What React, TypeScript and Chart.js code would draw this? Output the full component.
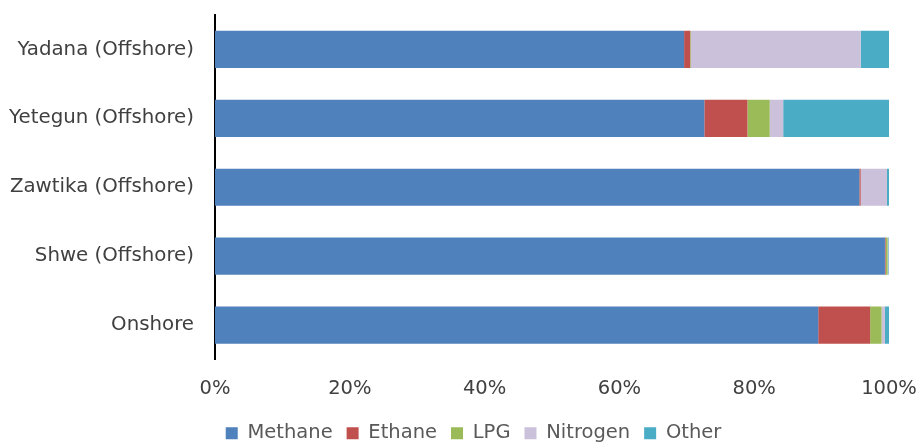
import React, { useEffect, useRef } from "react";
import { Chart, registerables } from "chart.js";

Chart.register(...registerables);

const categories = ["Yadana (Offshore)", "Yetegun (Offshore)", "Zawtika (Offshore)", "Shwe (Offshore)", "Onshore"];
const methane = [69.6, 72.6, 95.6, 99.4, 89.5];
const ethane = [0.9, 6.4, 0.2, 0.1, 7.7];
const lpg = [0.1, 3.3, 0.0, 0.3, 1.7];
const nitrogen = [25.2, 2.0, 3.9, 0.1, 0.5];
const other = [4.2, 15.7, 0.3, 0.1, 0.6];
const xTicks = ["0%", "20%", "40%", "60%", "80%", "100%"];

const FONT = "'DejaVu Sans', Verdana, sans-serif";

const legendShift = {
  id: "legendShift",
  afterLayout(chart: any) {
    const lg = chart.legend;
    if (lg) {
      lg.top += 9;
      lg.bottom += 9;
      lg.left += 26;
      lg.right += 26;
    }
  },
};

export default function App() {
  const ref = useRef<HTMLCanvasElement | null>(null);
  useEffect(() => {
    document.body.style.margin = "0";
    const ctx = ref.current!;
    const mk = (label: string, data: number[], color: string) => ({
      label,
      data,
      backgroundColor: color,
      borderWidth: 0,
      barPercentage: 0.54,
      categoryPercentage: 1,
    });
    const chart = new Chart(ctx, {
      type: "bar",
      data: {
        labels: categories,
        datasets: [
          mk("Methane", methane, "#4F81BD"),
          mk("Ethane", ethane, "#C0504D"),
          mk("LPG", lpg, "#9BBB59"),
          mk("Nitrogen", nitrogen, "#CCC1DA"),
          mk("Other", other, "#4BACC6"),
        ],
      },
      plugins: [legendShift],
      options: {
        indexAxis: "y",
        animation: false,
        responsive: false,
        maintainAspectRatio: false,
        layout: { padding: { left: 6, right: 33, top: 15, bottom: 0 } },
        plugins: {
          legend: {
            position: "bottom",
            labels: {
              boxWidth: 12,
              boxHeight: 12,
              color: "#595959",
              font: { family: FONT, size: 19.5 },
              padding: 14,
            },
          },
          tooltip: { enabled: false },
        },
        scales: {
          x: {
            stacked: true,
            min: 0,
            max: 100,
            grid: { display: false, drawTicks: false },
            border: { display: false },
            ticks: {
              stepSize: 20,
              padding: 18,
              color: "#404040",
              font: { family: FONT, size: 19.5 },
              maxRotation: 0,
              callback: (_v: any, i: number) => xTicks[i],
            },
            afterFit: (s: any) => {
              s.height = 41;
              s.paddingLeft = 0;
              s.paddingRight = 0;
            },
          },
          y: {
            stacked: true,
            grid: { display: false, drawTicks: false },
            border: { display: true, color: "#000000", width: 2 },
            ticks: {
              padding: 21,
              color: "#404040",
              font: { family: FONT, size: 19.8 },
            },
            afterFit: (s: any) => {
              s.width = 209;
              s.paddingTop = 0;
              s.paddingBottom = 0;
            },
          },
        },
      },
    });
    return () => chart.destroy();
  }, []);
  return (
    <div style={{ position: "relative", width: 922, height: 444 }}>
      <canvas ref={ref} width={922} height={444} style={{ width: 922, height: 444 }} />
    </div>
  );
}
